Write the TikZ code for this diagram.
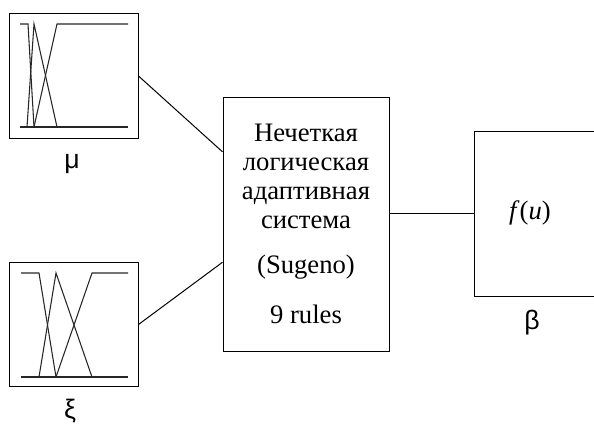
\documentclass[tikz,border=0pt]{standalone}
\usepackage{fontspec}
\setmainfont{Liberation Serif}
\newfontfamily\greekfont{Liberation Sans}
\usepackage{tikz}
\usetikzlibrary{positioning, calc}
\definecolor{mfgray}{HTML}{262626}
\tikzstyle{mfbox} = [rectangle, draw=black, line width=0.75pt, minimum width=96.75pt, minimum height=93.5pt, inner sep=0pt]
\tikzstyle{fisbox} = [rectangle, draw=black, line width=0.75pt, minimum width=124.5pt, minimum height=190.5pt, text centered, align=center, font=\fontsize{20}{21.75}\selectfont]
\tikzstyle{outbox} = [rectangle, draw=black, line width=0.75pt, minimum width=109.5pt, minimum height=123.75pt, inner sep=0pt]
\tikzstyle{varlabel} = [anchor=base, inner sep=0pt, font=\greekfont\fontsize{20}{24}\selectfont]
\tikzstyle{mf} = [draw=mfgray, line width=0.8pt, line join=miter]
\tikzstyle{link} = [draw=black, line width=0.75pt]

\begin{document}
\begin{tikzpicture}[x=0.75pt, y=-0.75pt]
\useasboundingbox (0,0) rectangle (594,425);
% input membership functions
\node (mubox) [mfbox] at (73.5,76) {};
\node (xibox) [mfbox] at (73.5,324.5) {};
\draw [mf] (20,127) -- (128,127);
\draw [mf] (20,24) -- (28,24) -- (34,127);
\draw [mf] (27,127) -- (34,24) -- (57,127);
\draw [mf] (34,127) -- (57,24) -- (128,24);
\draw [mf] (21,377) -- (128,377);
\draw [mf] (21,273) -- (39,273) -- (56,377);
\draw [mf] (39,377) -- (56,273) -- (92,377);
\draw [mf] (56,377) -- (92,273) -- (128,273);
\node (mulab) [varlabel] at (72,168) {μ};
\node (xilab) [varlabel] at (70,418) {ξ};
% inference system
\node (fis) [fisbox] at (306,224) {Нечеткая\\логическая\\адаптивная\\система\\[12pt](Sugeno)\\[15.75pt]9 rules};
% output
\node (outb) [outbox] at (547,213.5) {};
\node (fu) at (530,213) {\fontsize{20}{24}\selectfont\textit{f}(\textit{u})};
\node (betalab) [varlabel] at (532,329) {β};

\draw [link] (mubox.east) -- ($(fis.north west)!0.217!(fis.south west)$);
\draw [link] (xibox.east) -- ($(fis.north west)!0.65!(fis.south west)$);
\draw [link] (outb.west -| fis.east) -- (outb.west);
\end{tikzpicture}
\end{document}
